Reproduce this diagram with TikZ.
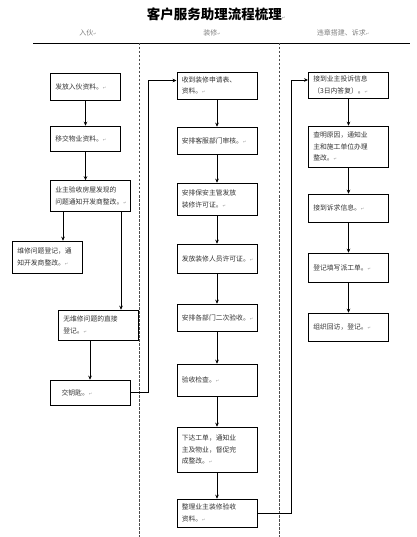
\documentclass[tikz,border=0pt]{standalone}
\usepackage{fontspec}
\setmainfont{Noto Sans CJK SC}
\newfontfamily\symfont{DejaVu Sans}
\usetikzlibrary{arrows.meta}
\newcommand{\retmark}{{\symfont\color{black!40}\fontsize{4}{4}\selectfont ↵}}

\begin{document}
\begin{tikzpicture}[x=1pt, y=-1pt, ->, >={Stealth[length=4pt,width=3.6pt]}, line width=0.6pt,
    box/.style = {draw, rectangle, align=left, inner xsep=5pt, inner ysep=2pt,
        font=\fontsize{6.8}{11.5}\selectfont, text=black!80},
    narrow/.style = {box, text width=60.4pt},
    wide/.style = {box, text width=70.4pt},
    head/.style = {font=\fontsize{7}{8}\selectfont, text=black!50},
    sep/.style = {-, line width=0.5pt, dash pattern=on 2.5pt off 1.5pt, black!70}]
    \useasboundingbox (0,0) rectangle (416,537);

    % Title and lanes
    \node[font=\fontsize{13.5}{14}\selectfont\bfseries] (title) at (216,14) {客户服务助理流程梳理\retmark};
    \node[head] (h1) at (88,33) {入伙\retmark};
    \node[head] (h2) at (212,33) {装修\retmark};
    \node[head] (h3) at (343,33) {违章搭建、诉求\retmark};
    \draw[-] (33,43) -- (410,43);
    \draw[sep] (139,43) -- (139,537);
    \draw[sep] (279,43) -- (279,537);

    % Nodes
    \node[narrow, minimum height=27pt] (ru1) at (85.5,86.5) {发放入伙资料。\retmark};
    \node[narrow, minimum height=25pt] (ru2) at (85.5,138.5) {移交物业资料。\retmark};
    \node[wide, minimum height=31pt] (ru3) at (90.5,196) {业主验收房屋发现的\\问题通知开发商整改。\retmark};
    \node[narrow, minimum height=32pt] (ru4) at (47.5,257) {维修问题登记，通\\知开发商整改。\retmark};
    \node[wide, minimum height=30pt] (ru5) at (98.5,325) {无维修问题的直接\\登记。\retmark};
    \node[wide, minimum height=25pt] (ru6) at (90,392.5) {\quad 交钥匙。\retmark};

    \node[wide, minimum height=27pt] (zx1) at (217,85.5) {收到装修申请表、\\资料。\retmark};
    \node[wide, minimum height=27pt] (zx2) at (217,140.5) {安排客服部门审核。\retmark};
    \node[wide, minimum height=32pt] (zx3) at (217,199) {安排保安主管发放\\装修许可证。\retmark};
    \node[wide, minimum height=29pt] (zx4) at (217,258.5) {发放装修人员许可证。\retmark};
    \node[wide, minimum height=27pt] (zx5) at (217,317.5) {安排各部门二次验收。\retmark};
    \node[wide, minimum height=32pt] (zx6) at (217,380) {验收检查。\retmark};
    \node[wide, minimum height=45pt] (zx7) at (217,449.5) {下达工单，通知业\\主及物业，督促完\\成整改。\retmark};
    \node[wide, minimum height=28pt] (zx8) at (217,513) {整理业主装修验收\\资料。\retmark};

    \node[wide, minimum height=26pt] (wz1) at (348.5,85) {接到业主投诉信息\\（3日内答复）。\retmark};
    \node[wide, minimum height=41pt] (wz2) at (348.5,146.5) {查明原因，通知业\\主和施工单位办理\\整改。\retmark};
    \node[wide, minimum height=28pt] (wz3) at (348.5,208) {接到诉求信息。\retmark};
    \node[wide, minimum height=29pt] (wz4) at (348.5,267.5) {登记填写派工单。\retmark};
    \node[wide, minimum height=28pt] (wz5) at (348.5,327) {组织回访，登记。\retmark};

    % Edges
    \draw (ru1) -- (ru2);
    \draw (ru2) -- (ru2 |- ru3.north);
    \draw ([xshift=13pt]ru3.south west) -- ([xshift=13pt]ru3.south west |- ru4.north);
    \draw ([xshift=-10pt]ru3.south east) -- ([xshift=-10pt]ru3.south east |- ru5.north);
    \draw (ru6.north |- ru5.south) -- (ru6.north);
    \draw (ru6.east) -- ++(18,0) |- ([yshift=5pt]zx1.west);

    \draw (zx1) -- (zx2);
    \draw (zx2) -- (zx3);
    \draw (zx3) -- (zx4);
    \draw (zx4) -- (zx5);
    \draw (zx5) -- (zx6);
    \draw (zx6) -- (zx7);
    \draw (zx7) -- (zx8);
    \draw (zx8.east) -- ++(34,0) |- ([yshift=5pt]wz1.west);

    \draw (wz1) -- (wz2);
    \draw (wz2) -- (wz3);
    \draw (wz3) -- (wz4);
    \draw (wz4) -- (wz5);
\end{tikzpicture}
\end{document}
